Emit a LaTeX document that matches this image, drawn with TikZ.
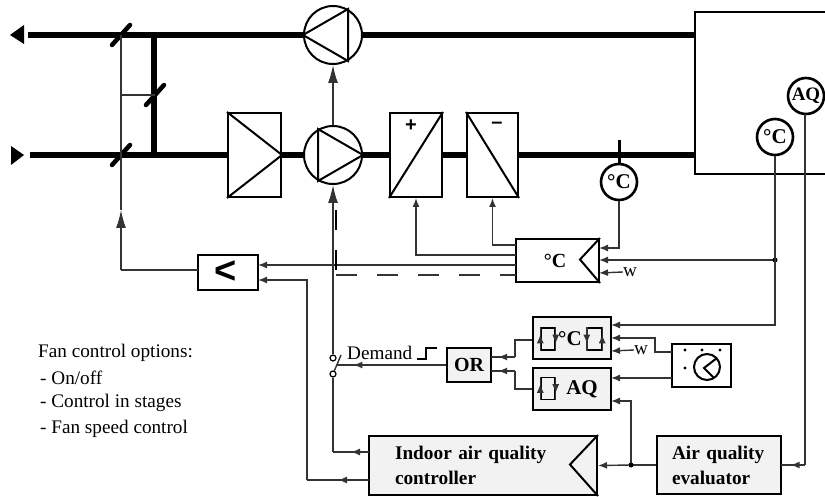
\documentclass[tikz,border=0pt]{standalone}
\usepackage{fontspec}
\setmainfont{Liberation Serif}
\setsansfont{Liberation Sans}
\usetikzlibrary{arrows.meta,calc,decorations.markings}

\tikzset{
    duct/.style={line width=6.5pt},
    sig/.style={line width=1.4pt, draw=black!80},
    tip/.style={sig, -{Latex[length=9pt,width=7pt]}},
    bigtip/.style={sig, -{Latex[length=18pt,width=10pt]}},
    midtip/.style={sig, postaction={decorate}, decoration={markings,
        mark=at position #1 with {\arrow{Latex[length=9pt,width=7pt]}}}},
    midtip/.default=0.5,
    unit/.style={draw, line width=2pt, rectangle, inner sep=0pt},
    ctrl/.style={unit, fill=black!5},
    fan/.style={draw, line width=2pt, circle, minimum size=58pt, inner sep=0pt},
    sensor/.style={draw, line width=2.6pt, circle, minimum size=36pt, inner sep=0pt, fill=white},
    contact/.style={draw, line width=1.2pt, circle, minimum size=6pt, inner sep=0pt},
    hyst/.style={draw, line width=1.4pt, rectangle, minimum width=14pt, minimum height=22pt, inner sep=0pt},
    plain/.style={font=\fontsize{19.2}{22}\selectfont, inner sep=0pt},
    heavy/.style={font=\fontsize{19.3}{20}\bfseries\selectfont, inner sep=0pt},
    sign/.style={font=\fontsize{20}{22}\sffamily\bfseries\selectfont, inner sep=0pt},
}

\begin{document}
\begin{tikzpicture}[x=1pt,y=-1pt]

    \useasboundingbox (0,0) rectangle (825,497);

    % Room
    \coordinate (room_tr) at (825,12);
    \coordinate (room_tl) at (695,12);
    \coordinate (room_bl) at (695,174);
    \coordinate (room_br) at (825,174);
    \coordinate (room_ret) at (695,35);
    \coordinate (room_sup) at (695,155);
    \draw[line width=2pt] (room_tr) -- (room_tl) -- (room_bl) -- (room_br);

    % Fans
    \node[fan] (fan_ret) at (333,35){};
    \draw[line width=2pt] (fan_ret.west) -- (fan_ret.60) -- (fan_ret.-60) -- cycle;
    \node[fan] (fan_sup) at (333,155){};
    \draw[line width=2pt] (fan_sup.east) -- (fan_sup.120) -- (fan_sup.240) -- cycle;

    % Filter, heater and cooler
    \node[unit,
        minimum width=53pt,
        minimum height=84pt] (filter) at (254.5,155){};
    \draw[line width=2pt] (filter.north west) -- (filter.east) -- (filter.south west);
    \node[unit,
        minimum width=52pt,
        minimum height=84pt] (heater) at (416,155){};
    \draw[line width=2pt] (heater.south west) -- (heater.north east);
    \node[unit,
        minimum width=51pt,
        minimum height=84pt] (cooler) at (492.5,155){};
    \draw[line width=2pt] (cooler.north west) -- (cooler.south east);
    \node[sign] (heater_sign) at (411,126){+};
    \node[sign] (cooler_sign) at (497,125){–};

    % Ducts
    \coordinate (ret_end) at (28,35);
    \coordinate (sup_end) at (30,155);
    \coordinate (byp_top) at (154,35);
    \coordinate (byp_bot) at (154,155);
    \draw[duct] (ret_end) -- (fan_ret.west);
    \draw[duct] (fan_ret.east) -- (room_ret);
    \draw[duct] (sup_end) -- (filter.west);
    \draw[duct] (filter.east) -- (fan_sup.west);
    \draw[duct] (fan_sup.east) -- (heater.west);
    \draw[duct] (heater.east) -- (cooler.west);
    \draw[duct] (cooler.east) -- (room_sup);
    \draw[duct] (byp_top) -- (byp_bot);

    % Flow direction
    \fill (10,35) -- (24,25) -- (24,44) -- cycle;
    \fill (11,146) -- (24,155) -- (11,165) -- cycle;

    % Dampers
    \coordinate (dmp_ret) at (121,35);
    \coordinate (dmp_sup) at (121,155);
    \coordinate (dmp_byp) at (155,95);
    \foreach \d in {dmp_ret,dmp_sup,dmp_byp}
        \draw[line width=4.5pt, line cap=round] ($(\d)+(-9,10)$) -- ($(\d)+(9,-10)$);
    \coordinate (dmp_tee) at (121,95);
    \draw[sig] (dmp_ret) -- (dmp_tee) -- (dmp_byp);
    \draw[sig] (dmp_tee) -- (dmp_sup);

    % Sensors
    \node[sensor, font=\fontsize{21}{24}\bfseries\selectfont] (sens_sup) at (619,182){°C};
    \node[sensor, font=\fontsize{21}{24}\bfseries\selectfont] (sens_room) at (775,137){°C};
    \node[sensor, font=\fontsize{19}{22}\bfseries\selectfont] (sens_aq) at (806,96){AQ};
    \coordinate (sens_tick) at (619,140);
    \draw[line width=3pt] (sens_tick) -- (sens_sup.north);

    % Temperature controller
    \node[unit,
        minimum width=83pt,
        minimum height=43pt,
        font=\fontsize{20}{24}\bfseries\selectfont] (ctl_temp) at (557.5,260.5){\hspace*{-5pt}°C};
    \draw[line width=2pt] (ctl_temp.north east) -- ++(-20,21.5) -- (ctl_temp.south east);

    % Minimum selector
    \node[unit,
        minimum width=60pt,
        minimum height=35pt] (sel_min) at (228,272.5){};
    \node[font=\fontsize{38}{40}\sffamily\bfseries\selectfont, inner sep=0pt] (sel_sign) at (226,272){<};

    % Thermostat and air quality switches
    \node[ctrl,
        minimum width=78pt,
        minimum height=42pt] (sw_temp) at (572,338){};
    \node[ctrl,
        minimum width=78pt,
        minimum height=42pt] (sw_aq) at (572,389){};
    \node[hyst] (hy_ta) at (548,339){};
    \node[hyst] (hy_tb) at (594.5,339){};
    \node[hyst] (hy_aq) at (548,388.5){};
    \node[font=\fontsize{21}{24}\bfseries\selectfont, inner sep=0pt] (sw_temp_txt) at (570,339){°C};
    \node[font=\fontsize{21}{24}\bfseries\selectfont, inner sep=0pt] (sw_aq_txt) at (582,389){AQ};
    \draw[midtip=0.7] (hy_ta.south west) -- (hy_ta.north west);
    \draw[midtip=0.7] (hy_ta.north east) -- (hy_ta.south east);
    \draw[midtip=0.7] (hy_tb.north west) -- (hy_tb.south west);
    \draw[midtip=0.7] (hy_tb.south east) -- (hy_tb.north east);
    \draw[midtip=0.7] (hy_aq.south west) -- (hy_aq.north west);
    \draw[midtip=0.7] (hy_aq.north east) -- (hy_aq.south east);

    % OR gate
    \node[ctrl,
        minimum width=44pt,
        minimum height=34pt,
        font=\fontsize{20}{24}\bfseries\selectfont] (gate_or) at (469,365){OR};

    % Time switch
    \node[unit,
        minimum width=59pt,
        minimum height=43pt] (clock) at (701.5,365.5){};
    \node[draw, line width=2pt, circle, minimum size=26pt, inner sep=0pt] (clock_face) at (707,367){};
    \coordinate (hand_a) at (717,358);
    \coordinate (hand_b) at (704,368);
    \coordinate (hand_c) at (714,378);
    \draw[line width=2pt] (hand_a) -- (hand_b) -- (hand_c);
    \foreach \x/\y in {685/350,702/350,720/350,685/368}
        \fill (\x,\y) circle (1.6pt);

    % Indoor air quality controller
    \node[ctrl,
        minimum width=228pt,
        minimum height=59pt,
        heavy,
        align=left,
        text width=228pt] (ctl_iaq) at (483,465.5){\hspace*{26pt}Indoor air quality\\[5pt]\hspace*{26pt}controller};
    \draw[line width=2pt] (ctl_iaq.north east) -- ++(-28,29.5) -- (ctl_iaq.south east);

    % Air quality evaluator
    \node[ctrl,
        minimum width=124pt,
        minimum height=58pt,
        heavy,
        align=left,
        text width=124pt] (eval_aq) at (719,465){\hspace*{15pt}Air quality\\[5pt]\hspace*{15pt}evaluator};

    % Demand switch
    \node[contact] (con_top) at (333,358){};
    \node[contact] (con_bot) at (333,374){};
    \coordinate (con_arm) at (341,355);
    \coordinate (con_mid) at (337,365);
    \draw[sig] (con_bot) -- (con_arm);
    \node[plain, anchor=west] (demand) at (347,353){Demand};
    \coordinate (pulse_a) at (417,359);
    \coordinate (pulse_b) at (426,359);
    \coordinate (pulse_c) at (426,348);
    \coordinate (pulse_d) at (437,348);
    \draw[line width=2pt] (pulse_a) -- (pulse_b) -- (pulse_c) -- (pulse_d);

    % Fan signals
    \draw[bigtip] (fan_sup.north) -- (fan_ret.south);
    \draw[bigtip] (con_top.north) -- (fan_sup.south);
    \draw[midtip=0.85] (gate_or.west) -- (con_mid);
    \coordinate (iaq_fan) at (369,452);
    \coordinate (fan_low) at (333,452);
    \draw[sig] (con_bot.south) -- (fan_low);
    \draw[midtip] (iaq_fan) -- (fan_low);

    % Damper signals
    \coordinate (min_out) at (198,270);
    \coordinate (dmp_low) at (121,270);
    \draw[sig] (min_out) -- (dmp_low);
    \coordinate (dmp_arr) at (121,210);
    \draw[bigtip] (dmp_low) -- (dmp_arr);
    \draw[sig] (dmp_arr) -- (dmp_sup);

    % Selector inputs
    \coordinate (min_in_a) at (258,265);
    \coordinate (min_in_b) at (258,280);
    \coordinate (tmp_out_a) at (516,265);
    \coordinate (iaq_out) at (369,480);
    \coordinate (iaq_far) at (307,480);
    \draw[tip] (tmp_out_a) -- (min_in_a);
    \draw[midtip] (iaq_out) -- (iaq_far);
    \draw[tip] (iaq_far) |- (min_in_b);

    % Dashed speed signal
    \coordinate (dash_a) at (516,275);
    \coordinate (dash_b) at (336,275);
    \coordinate (dash_c) at (336,270);
    \coordinate (dash_d) at (336,210);
    \draw[sig, dash pattern=on 21pt off 20pt] (dash_b) -- (dash_a);
    \draw[line width=2pt, dash pattern=on 20pt off 20pt] (dash_c) -- (dash_d);

    % Heater and cooler signals
    \coordinate (tmp_out_b) at (516,255);
    \coordinate (tmp_out_c) at (516,245);
    \draw[tip] (tmp_out_b) -| (heater.south);
    \draw[tip] (tmp_out_c) -| (cooler.south);

    % Temperature controller inputs
    \coordinate (tmp_in_a) at (599,248);
    \coordinate (tmp_in_b) at (599,260);
    \coordinate (tmp_in_c) at (599,273);
    \coordinate (room_tee) at (775,260);
    \node[plain] (w_tmp) at (630,272){w};
    \draw[tip] (sens_sup.south) |- (tmp_in_a);
    \draw[tip] (room_tee) -- (tmp_in_b);
    \draw[tip] (w_tmp.west) -- (tmp_in_c);
    \fill (room_tee) circle (2.5pt);

    % Switch inputs
    \coordinate (sw_in_a) at (611,325);
    \coordinate (sw_in_b) at (611,338);
    \coordinate (sw_in_c) at (611,351);
    \coordinate (sw_in_d) at (611,378);
    \coordinate (sw_in_e) at (611,401);
    \coordinate (clk_out_a) at (672,352);
    \coordinate (clk_out_b) at (672,378);
    \coordinate (clk_bend) at (655,338);
    \node[plain] (w_sw) at (641,350){w};
    \draw[tip] (sens_room.south) |- (sw_in_a);
    \draw[tip] (clk_out_a) -| (clk_bend) -- (sw_in_b);
    \draw[tip] (w_sw.west) -- (sw_in_c);
    \draw[tip] (clk_out_b) -- (sw_in_d);

    % OR inputs
    \coordinate (or_in_a) at (491,357);
    \coordinate (or_in_b) at (491,371);
    \coordinate (sw_bend_a) at (515,340);
    \coordinate (sw_bend_b) at (515,389);
    \coordinate (or_bend_a) at (515,357);
    \coordinate (or_bend_b) at (515,371);
    \draw[sig] (sw_temp.west |- sw_bend_a) -- (sw_bend_a) -- (or_bend_a);
    \draw[midtip=0.7] (or_bend_a) -- (or_in_a);
    \draw[sig] (sw_aq.west |- sw_bend_b) -- (sw_bend_b) -- (or_bend_b);
    \draw[midtip=0.7] (or_bend_b) -- (or_in_b);

    % Evaluator signals
    \coordinate (eval_tee) at (631,465);
    \coordinate (eval_in) at (781,465);
    \coordinate (aq_bend) at (805,465);
    \coordinate (aq_top) at (805,114);
    \draw[sig] (eval_aq.west) -- (eval_tee);
    \draw[tip] (eval_tee) -- (ctl_iaq.east);
    \draw[tip] (eval_tee) |- (sw_in_e);
    \fill (eval_tee) circle (2.5pt);
    \draw[sig] (aq_top) -- (aq_bend);
    \draw[midtip=0.6] (aq_bend) -- (eval_in);

    % Options
    \node[plain, anchor=west] (opt_title) at (38,353){Fan control options:};
    \node[plain, anchor=west] (opt_a) at (40,378){- On/off};
    \node[plain, anchor=west] (opt_b) at (40,403){- Control in stages};
    \node[plain, anchor=west] (opt_c) at (40,429){- Fan speed control};

\end{tikzpicture}
\end{document}
